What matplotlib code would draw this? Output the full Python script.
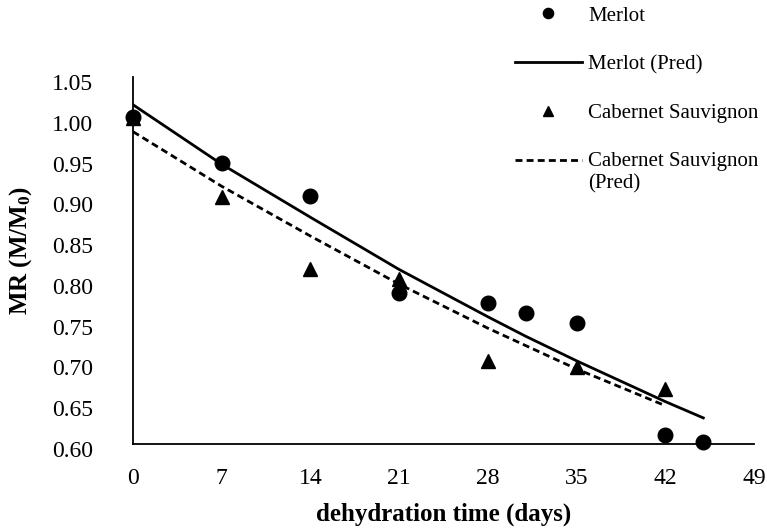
import matplotlib
matplotlib.use("Agg")
import matplotlib.pyplot as plt
from matplotlib.ticker import FixedLocator, FormatStrFormatter
from matplotlib.transforms import ScaledTranslation

plt.rcParams['font.family'] = ['Liberation Serif', 'DejaVu Serif']
plt.rcParams['mathtext.fontset'] = 'custom'
plt.rcParams['mathtext.rm'] = 'Liberation Serif'
plt.rcParams['mathtext.it'] = 'Liberation Serif:italic'
plt.rcParams['mathtext.bf'] = 'Liberation Serif:bold'

# Data
merlot_days = [0, 7, 14, 21, 28, 31, 35, 42, 45]
merlot_mr = [1.001, 0.945, 0.904, 0.785, 0.773, 0.761, 0.748, 0.611, 0.603]
merlot_pred = [1.016, 0.943, 0.878, 0.814, 0.756, 0.732, 0.702, 0.652, 0.632]

cab_days = [0, 7, 14, 21, 28, 35, 42]
cab_mr = [1.000, 0.903, 0.815, 0.802, 0.702, 0.695, 0.668]
cab_pred = [0.983, 0.916, 0.855, 0.796, 0.742, 0.692, 0.647]

x_ticks = [0, 7, 14, 21, 28, 35, 42, 49]
y_ticks = [0.60, 0.65, 0.70, 0.75, 0.80, 0.85, 0.90, 0.95, 1.00, 1.05]

fig = plt.figure(figsize=(7.67, 5.29), dpi=100)
ax = fig.add_axes([133/767, 1-444/529, (754-133)/767, (444-77)/529])

ax.plot(merlot_days, merlot_mr, 'o', color='black', ms=10.5, label='Merlot', clip_on=False, zorder=3)
ax.plot(merlot_days, merlot_pred, '-', color='black', lw=2, label='Merlot (Pred)', zorder=2)
ax.plot(cab_days, cab_mr, '^', color='black', ms=10, label='Cabernet Sauvignon', clip_on=False, zorder=3)
ax.plot(cab_days, cab_pred, '--', color='black', lw=2, dashes=(2.5, 1.5), label='Cabernet Sauvignon\n(Pred)', zorder=2)

ax.set_xlim(0, 49)
ax.set_ylim(0.60, 1.05)
ax.xaxis.set_major_locator(FixedLocator(x_ticks))
ax.yaxis.set_major_locator(FixedLocator(y_ticks))
ax.yaxis.set_major_formatter(FormatStrFormatter('%.2f'))
ax.tick_params(axis='both', length=0, labelsize=17)
ax.tick_params(axis='x', pad=17)
ax.tick_params(axis='y', pad=28.5)

for s in ['top', 'right']:
    ax.spines[s].set_visible(False)
for s in ['left', 'bottom']:
    ax.spines[s].set_linewidth(1.3)

ax.set_xlabel('dehydration time (days)', fontsize=18, fontweight='bold')
ax.set_ylabel(r'MR (M/M$_\mathbf{0}$)', fontsize=18, fontweight='bold')
ax.xaxis.set_label_coords(0.5, (444-503)/367)
ax.yaxis.set_label_coords((34-133)/621, (444-250)/367)

# y tick labels sit slightly below their ticks in the reference
for lbl in ax.get_yticklabels():
    lbl.set_transform(lbl.get_transform() + ScaledTranslation(0, -5/100, fig.dpi_scale_trans))

handles, labels = ax.get_legend_handles_labels()
leg = fig.legend(handles, labels, loc='upper left', bbox_to_anchor=(515/767, 1-6/529),
                 frameon=False, fontsize=15, handlelength=3.2, handletextpad=0.3,
                 labelspacing=1.4, borderpad=0, borderaxespad=0, markerscale=0.7,
                 numpoints=1)
try:
    for col in leg._legend_handle_box.get_children():
        hps = col.get_children()
        hps[-1].align = 'top'
except Exception:
    pass

fig.savefig('out.png', dpi=100)
